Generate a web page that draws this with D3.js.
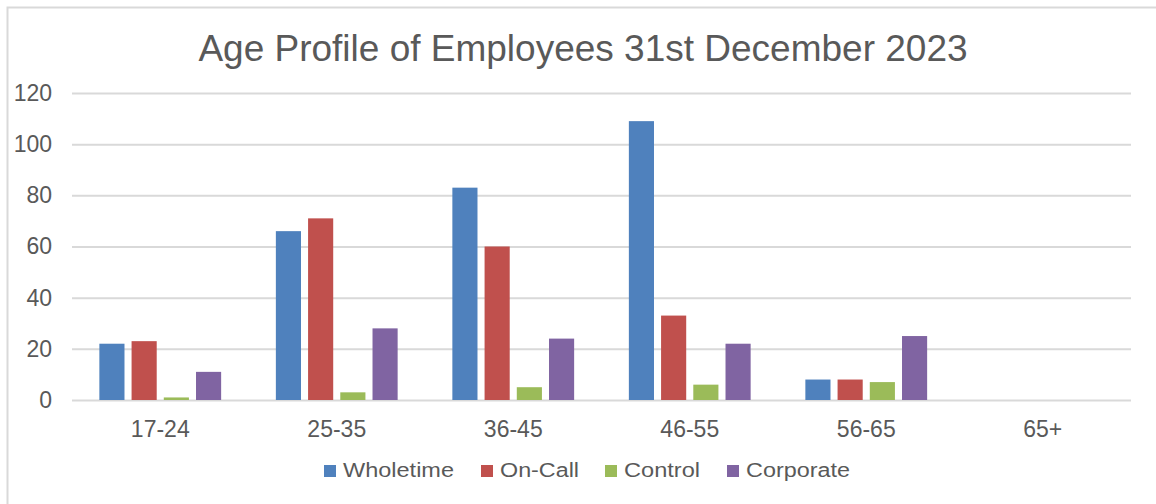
<!DOCTYPE html>
<html>
  <head>
    <meta charset="UTF-8">
    <title>Age Profile of Employees</title>
    <script src="https://d3js.org/d3.v7.min.js"></script>
    <style>
      body { margin: 0; background: #fff; overflow: hidden; }
      svg { font-family: "Liberation Sans", Arial, sans-serif; display: block; }
    </style>
  </head>
  <body>
    <div id="chart"></div>
    <script>
      // data
      const ageBands = ["17-24", "25-35", "36-45", "46-55", "56-65", "65+"];
      const seriesNames = ["Wholetime", "On-Call", "Control", "Corporate"];
      const wholetime = [22, 66, 83, 109, 8, 0];
      const onCall = [23, 71, 60, 33, 8, 0];
      const control = [1, 3, 5, 6, 7, 0];
      const corporate = [11, 28, 24, 22, 25, 0];
      const yTicks = [0, 20, 40, 60, 80, 100, 120];

      const colors = ["#4f81bd", "#c0504d", "#9bbb59", "#8064a2"];
      const seriesValues = [wholetime, onCall, control, corporate];

      const width = 1156, height = 504;
      const margin = { top: 93, right: 25, bottom: 104, left: 72 };

      const svg = d3.select("#chart").append("svg")
        .attr("width", width)
        .attr("height", height);

      // outer frame (only left and top edges are inside the picture)
      svg.append("rect")
        .attr("x", 7.5).attr("y", 7.5)
        .attr("width", width + 20).attr("height", height + 20)
        .attr("fill", "#fff")
        .attr("stroke", "#d9d9d9")
        .attr("stroke-width", 2);

      svg.append("text")
        .attr("x", 583).attr("y", 61)
        .attr("text-anchor", "middle")
        .attr("fill", "#595959")
        .style("font-size", "37px")
        .text("Age Profile of Employees 31st December 2023");

      const x = d3.scaleBand()
        .domain(ageBands)
        .range([margin.left, width - margin.right])
        .paddingInner(0.31)
        .paddingOuter(0.155);

      const xInner = d3.scaleBand()
        .domain(seriesNames)
        .range([0, x.bandwidth()])
        .paddingInner(0.22)
        .paddingOuter(0);

      const y = d3.scaleLinear()
        .domain([0, 120])
        .range([height - margin.bottom, margin.top]);

      // gridlines + y labels
      const yAxis = svg.append("g")
        .attr("transform", `translate(${margin.left},0)`)
        .call(d3.axisLeft(y).tickValues(yTicks)
          .tickSize(-(width - margin.left - margin.right))
          .tickPadding(20));
      yAxis.select(".domain").remove();
      yAxis.selectAll(".tick line").attr("stroke", "#d9d9d9").attr("stroke-width", 2);
      yAxis.selectAll(".tick text")
        .attr("fill", "#595959")
        .style("font-size", "23px")
        .style("font-family", "Liberation Sans, Arial, sans-serif");

      // bars
      const rows = ageBands.map((band, i) => ({
        band,
        values: seriesNames.map((s, j) => ({ key: s, value: seriesValues[j][i], color: colors[j] }))
      }));

      svg.append("g").selectAll("g")
        .data(rows)
        .join("g")
        .attr("transform", d => `translate(${x(d.band)},0)`)
        .selectAll("rect")
        .data(d => d.values)
        .join("rect")
        .attr("x", d => xInner(d.key))
        .attr("y", d => y(d.value))
        .attr("width", xInner.bandwidth())
        .attr("height", d => y(0) - y(d.value))
        .attr("fill", d => d.color);

      // x labels
      const xAxis = svg.append("g")
        .attr("transform", `translate(0,${y(0)})`)
        .call(d3.axisBottom(x).tickSize(0).tickPadding(21));
      xAxis.select(".domain").remove();
      xAxis.selectAll(".tick text")
        .attr("fill", "#595959")
        .style("font-size", "23px")
        .style("font-family", "Liberation Sans, Arial, sans-serif");

      // legend (text in the original is a little stretched sideways)
      const legendX = [324, 481, 605, 727];
      const legendTextWidth = [111, 79, 76, 104];
      const legend = svg.append("g")
        .attr("transform", "translate(0,477)");
      const items = legend.selectAll("g")
        .data(seriesNames)
        .join("g")
        .attr("transform", (d, i) => `translate(${legendX[i]},0)`);
      items.append("rect")
        .attr("x", 0).attr("y", -12)
        .attr("width", 12).attr("height", 12)
        .attr("fill", (d, i) => colors[i]);
      items.append("text")
        .attr("x", 19).attr("y", 0)
        .attr("fill", "#595959")
        .attr("textLength", (d, i) => legendTextWidth[i])
        .attr("lengthAdjust", "spacingAndGlyphs")
        .style("font-size", "20px")
        .text(d => d);
    </script>
  </body>
</html>
